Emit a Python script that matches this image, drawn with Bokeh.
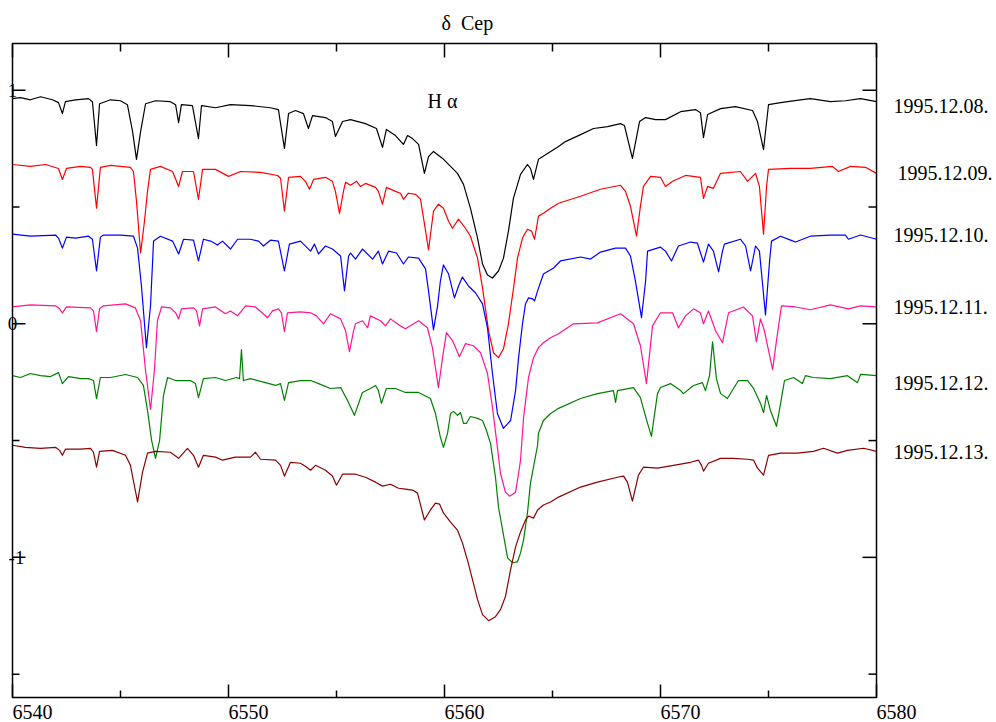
from bokeh.plotting import figure
from bokeh.models import Range1d, Label
from bokeh.embed import file_html
from bokeh.resources import INLINE

# Offset H-alpha region spectra of delta Cep, one per night: (wavelength [A], offset flux)
spec_1208 = [
    (6540.00, 0.964), (6540.37, 0.968), (6540.83, 0.959), (6541.30, 0.972), (6541.85, 0.959),
    (6542.13, 0.947), (6542.31, 0.900), (6542.45, 0.951), (6542.92, 0.959), (6543.52, 0.964),
    (6543.70, 0.951), (6543.89, 0.763), (6544.03, 0.942), (6544.54, 0.959), (6545.00, 0.955),
    (6545.32, 0.938), (6545.56, 0.823), (6545.74, 0.704), (6545.93, 0.823), (6546.16, 0.942),
    (6546.62, 0.955), (6547.31, 0.951), (6547.55, 0.938), (6547.69, 0.861), (6547.82, 0.938),
    (6548.33, 0.934), (6548.61, 0.793), (6548.75, 0.934), (6549.40, 0.925), (6550.09, 0.938),
    (6551.02, 0.934), (6551.94, 0.925), (6552.31, 0.917), (6552.59, 0.751), (6552.78, 0.900),
    (6553.10, 0.913), (6553.47, 0.900), (6553.70, 0.836), (6553.89, 0.891), (6554.49, 0.883),
    (6554.81, 0.866), (6554.95, 0.802), (6555.28, 0.866), (6555.65, 0.874), (6556.34, 0.857),
    (6556.85, 0.836), (6557.13, 0.755), (6557.31, 0.832), (6557.73, 0.806), (6558.10, 0.768),
    (6558.29, 0.806), (6558.52, 0.793), (6558.80, 0.768), (6559.07, 0.644), (6559.26, 0.716),
    (6559.49, 0.738), (6559.91, 0.708), (6560.28, 0.674), (6560.60, 0.644), (6560.88, 0.597),
    (6561.20, 0.495), (6561.53, 0.367), (6561.76, 0.256), (6561.99, 0.209), (6562.22, 0.196),
    (6562.50, 0.226), (6562.73, 0.281), (6562.96, 0.397), (6563.19, 0.537), (6563.52, 0.640),
    (6563.84, 0.682), (6563.98, 0.665), (6564.12, 0.618), (6564.35, 0.704), (6564.77, 0.729),
    (6565.28, 0.759), (6565.60, 0.780), (6566.30, 0.810), (6566.90, 0.836), (6567.55, 0.844),
    (6568.15, 0.857), (6568.33, 0.849), (6568.70, 0.708), (6569.03, 0.866), (6569.31, 0.883),
    (6569.77, 0.874), (6570.23, 0.874), (6570.93, 0.908), (6571.62, 0.917), (6571.85, 0.904),
    (6571.99, 0.797), (6572.18, 0.896), (6572.78, 0.921), (6573.47, 0.930), (6574.26, 0.913),
    (6574.49, 0.866), (6574.77, 0.746), (6575.00, 0.938), (6575.56, 0.947), (6576.48, 0.959),
    (6576.94, 0.964), (6577.87, 0.951), (6578.56, 0.955), (6579.26, 0.964), (6580.00, 0.951),
]

spec_1209 = [
    (6540.00, 0.682), (6540.83, 0.674), (6541.53, 0.682), (6542.13, 0.665), (6542.31, 0.618),
    (6542.50, 0.665), (6543.15, 0.674), (6543.61, 0.670), (6543.70, 0.661), (6543.89, 0.495),
    (6544.07, 0.670), (6544.54, 0.678), (6545.46, 0.670), (6545.60, 0.652), (6545.74, 0.525),
    (6545.93, 0.303), (6546.11, 0.439), (6546.25, 0.567), (6546.39, 0.661), (6546.85, 0.674),
    (6547.41, 0.652), (6547.69, 0.588), (6547.87, 0.652), (6548.38, 0.652), (6548.61, 0.533),
    (6548.80, 0.661), (6549.40, 0.661), (6550.00, 0.631), (6550.56, 0.652), (6551.48, 0.648),
    (6552.27, 0.635), (6552.41, 0.623), (6552.59, 0.482), (6552.78, 0.627), (6553.33, 0.631),
    (6553.56, 0.610), (6553.75, 0.576), (6553.94, 0.618), (6554.49, 0.627), (6554.81, 0.610),
    (6554.95, 0.567), (6555.14, 0.473), (6555.32, 0.567), (6555.42, 0.606), (6555.65, 0.593),
    (6555.93, 0.610), (6556.11, 0.588), (6556.34, 0.601), (6556.81, 0.584), (6556.94, 0.567),
    (6557.13, 0.512), (6557.31, 0.584), (6557.73, 0.567), (6557.96, 0.559), (6558.10, 0.533),
    (6558.33, 0.559), (6558.66, 0.554), (6558.89, 0.533), (6559.03, 0.452), (6559.26, 0.316),
    (6559.49, 0.482), (6559.72, 0.512), (6559.95, 0.495), (6560.19, 0.439), (6560.37, 0.409),
    (6560.65, 0.448), (6560.97, 0.409), (6561.20, 0.375), (6561.53, 0.281), (6561.76, 0.154),
    (6562.04, -0.030), (6562.27, -0.124), (6562.50, -0.145), (6562.73, -0.107), (6562.96, 0.000),
    (6563.19, 0.149), (6563.38, 0.281), (6563.61, 0.367), (6563.84, 0.405), (6564.03, 0.397),
    (6564.17, 0.362), (6564.35, 0.461), (6564.58, 0.473), (6564.91, 0.495), (6565.28, 0.516),
    (6566.30, 0.546), (6567.22, 0.576), (6568.15, 0.593),
    (6568.38, 0.567), (6568.61, 0.503), (6568.89, 0.375), (6569.07, 0.503), (6569.21, 0.588),
    (6569.54, 0.631), (6570.00, 0.627), (6570.23, 0.588), (6570.56, 0.610), (6571.16, 0.635),
    (6571.85, 0.627), (6571.99, 0.537), (6572.18, 0.588), (6572.45, 0.580), (6572.78, 0.644),
    (6573.70, 0.652), (6574.03, 0.610), (6574.40, 0.644), (6574.58, 0.588), (6574.77, 0.384),
    (6574.91, 0.588), (6575.00, 0.661), (6576.02, 0.665), (6576.94, 0.665), (6577.96, 0.674),
    (6578.24, 0.652), (6578.80, 0.674), (6579.49, 0.670), (6580.00, 0.644),
]

spec_1210 = [
    (6540.00, 0.384), (6540.83, 0.375), (6541.99, 0.380), (6542.13, 0.367), (6542.31, 0.324),
    (6542.50, 0.371), (6542.92, 0.367), (6543.52, 0.375), (6543.70, 0.362), (6543.89, 0.226),
    (6544.07, 0.371), (6544.21, 0.380), (6545.00, 0.380), (6545.60, 0.375), (6545.79, 0.324),
    (6545.97, 0.162), (6546.20, -0.102), (6546.39, 0.077), (6546.53, 0.354), (6546.85, 0.375),
    (6547.41, 0.354), (6547.69, 0.299), (6547.92, 0.362), (6548.38, 0.358), (6548.61, 0.269),
    (6548.84, 0.362), (6549.17, 0.354), (6549.49, 0.337), (6549.72, 0.354), (6550.09, 0.320),
    (6550.42, 0.362), (6551.02, 0.362), (6551.39, 0.354), (6551.62, 0.333), (6551.94, 0.358),
    (6552.31, 0.354), (6552.59, 0.226), (6552.82, 0.341), (6553.33, 0.354), (6553.80, 0.311),
    (6553.98, 0.341), (6554.17, 0.299), (6554.49, 0.333), (6554.81, 0.320), (6555.19, 0.290),
    (6555.37, 0.141), (6555.56, 0.290), (6555.65, 0.303), (6555.88, 0.277), (6556.20, 0.320),
    (6556.67, 0.277), (6556.94, 0.311), (6557.13, 0.256), (6557.41, 0.311), (6557.78, 0.303),
    (6558.10, 0.256), (6558.33, 0.286), (6558.80, 0.281), (6559.12, 0.235), (6559.26, 0.141),
    (6559.49, -0.026), (6559.68, 0.077), (6559.81, 0.183), (6559.95, 0.252), (6560.19, 0.213),
    (6560.46, 0.111), (6560.65, 0.162), (6560.83, 0.200), (6561.11, 0.162), (6561.44, 0.132),
    (6561.76, 0.085), (6561.99, -0.017), (6562.22, -0.213), (6562.45, -0.384), (6562.73, -0.448),
    (6563.06, -0.414), (6563.29, -0.286), (6563.43, -0.145), (6563.61, 0.000), (6563.75, 0.085),
    (6563.89, 0.111), (6564.07, 0.107), (6564.17, 0.098), (6564.31, 0.141), (6564.58, 0.213),
    (6565.05, 0.239), (6565.37, 0.269), (6566.30, 0.286), (6566.76, 0.277), (6567.22, 0.307),
    (6567.92, 0.324),
    (6568.38, 0.324), (6568.61, 0.290), (6568.84, 0.183), (6569.12, 0.026), (6569.31, 0.183),
    (6569.40, 0.311), (6570.00, 0.328), (6570.23, 0.311), (6570.51, 0.269), (6570.83, 0.333),
    (6571.39, 0.350), (6571.71, 0.345), (6571.99, 0.264), (6572.22, 0.341), (6572.45, 0.311),
    (6572.69, 0.222), (6572.87, 0.311), (6572.96, 0.341), (6573.70, 0.362), (6573.94, 0.333),
    (6574.17, 0.226), (6574.40, 0.333), (6574.58, 0.311), (6574.86, 0.038), (6575.05, 0.269),
    (6575.14, 0.354), (6575.56, 0.375), (6576.02, 0.358), (6576.25, 0.350), (6576.94, 0.375),
    (6577.87, 0.380), (6578.56, 0.380), (6578.70, 0.362), (6579.26, 0.380), (6580.00, 0.362),
]

spec_1211 = [
    (6540.00, 0.072), (6540.83, 0.081), (6541.99, 0.077), (6542.18, 0.064), (6542.31, 0.047),
    (6542.50, 0.072), (6543.61, 0.068), (6543.75, 0.055), (6543.89, -0.034), (6544.03, 0.064),
    (6544.21, 0.077), (6545.23, 0.085), (6545.69, 0.068), (6545.93, 0.013), (6546.16, -0.200),
    (6546.39, -0.367), (6546.57, -0.200), (6546.71, 0.013), (6546.90, 0.072), (6547.31, 0.068),
    (6547.55, 0.047), (6547.69, 0.021), (6547.82, 0.064), (6548.38, 0.068), (6548.52, 0.055),
    (6548.66, -0.009), (6548.80, 0.064), (6549.40, 0.072), (6549.86, 0.043), (6550.09, 0.055),
    (6550.42, 0.034), (6550.79, 0.077), (6551.25, 0.072), (6551.81, 0.026), (6552.04, 0.055),
    (6552.31, 0.064), (6552.45, 0.047), (6552.59, -0.034), (6552.73, 0.047), (6553.33, 0.051),
    (6553.80, 0.047), (6554.07, 0.034), (6554.40, 0.000), (6554.72, 0.043), (6555.19, 0.021),
    (6555.42, -0.030), (6555.60, -0.119), (6555.79, -0.030), (6555.88, 0.000), (6556.20, 0.013),
    (6556.44, -0.017), (6556.57, 0.034), (6557.04, 0.013), (6557.27, -0.009), (6557.50, 0.021),
    (6557.96, -0.009), (6558.19, -0.021), (6558.80, 0.013), (6559.21, -0.017), (6559.44, -0.102),
    (6559.72, -0.273), (6559.91, -0.145), (6560.09, -0.038), (6560.37, -0.072), (6560.69, -0.141),
    (6560.97, -0.085), (6561.34, -0.094), (6561.67, -0.124), (6561.99, -0.213), (6562.22, -0.358),
    (6562.41, -0.499), (6562.59, -0.640), (6562.82, -0.721), (6563.01, -0.738), (6563.29, -0.721),
    (6563.43, -0.640), (6563.52, -0.584), (6563.66, -0.401), (6563.89, -0.230), (6564.12, -0.145),
    (6564.35, -0.102), (6564.58, -0.081), (6564.91, -0.060), (6565.28, -0.043),
    (6565.97, 0.000), (6567.08, 0.004), (6568.15, 0.043), (6568.75, 0.000),
    (6569.07, -0.094), (6569.35, -0.256), (6569.63, -0.009), (6570.00, 0.047), (6570.56, 0.047),
    (6570.83, -0.017), (6571.16, 0.034), (6571.53, 0.064), (6571.85, 0.047), (6571.99, 0.000),
    (6572.22, 0.055), (6572.55, -0.030), (6572.87, -0.081), (6573.15, 0.047), (6573.84, 0.072),
    (6574.26, 0.034), (6574.44, -0.077), (6574.63, 0.021), (6574.81, -0.030), (6575.19, -0.196),
    (6575.37, -0.072), (6575.60, 0.077), (6576.25, 0.072), (6576.94, 0.060), (6577.87, 0.081),
    (6578.70, 0.064), (6579.26, 0.077), (6580.00, 0.072),
]

spec_1212 = [
    (6540.00, -0.222), (6540.37, -0.230), (6540.83, -0.213), (6541.30, -0.222), (6541.76, -0.226),
    (6542.13, -0.209), (6542.31, -0.256), (6542.59, -0.226), (6543.15, -0.235), (6543.52, -0.235),
    (6543.75, -0.243), (6543.89, -0.320), (6544.07, -0.230), (6544.54, -0.230), (6545.23, -0.217),
    (6545.79, -0.230), (6546.06, -0.264), (6546.25, -0.371), (6546.44, -0.499), (6546.62, -0.576),
    (6546.81, -0.499), (6546.99, -0.307), (6547.18, -0.230), (6547.55, -0.243), (6548.24, -0.243),
    (6548.47, -0.256), (6548.61, -0.316), (6548.84, -0.235), (6549.40, -0.230), (6549.86, -0.243),
    (6550.37, -0.230), (6550.51, -0.235), (6550.60, -0.111), (6550.69, -0.243), (6551.02, -0.235),
    (6551.71, -0.252), (6552.18, -0.264), (6552.41, -0.256), (6552.59, -0.328), (6552.78, -0.252),
    (6553.33, -0.243), (6553.80, -0.243), (6554.17, -0.256), (6554.72, -0.277), (6555.19, -0.273),
    (6555.51, -0.328), (6555.83, -0.392), (6556.20, -0.294), (6556.57, -0.277), (6556.81, -0.264),
    (6556.94, -0.286), (6557.08, -0.341), (6557.31, -0.277), (6557.73, -0.277), (6558.19, -0.294),
    (6558.80, -0.294), (6559.35, -0.320), (6559.58, -0.384), (6559.81, -0.486), (6559.95, -0.529),
    (6560.14, -0.469), (6560.28, -0.384), (6560.42, -0.375), (6560.60, -0.392), (6560.74, -0.380),
    (6560.88, -0.426), (6561.02, -0.426), (6561.20, -0.397), (6561.53, -0.405), (6561.76, -0.414),
    (6561.94, -0.456), (6562.13, -0.512), (6562.36, -0.657), (6562.50, -0.785), (6562.69, -0.883),
    (6562.92, -1.002), (6563.15, -1.023), (6563.38, -1.019), (6563.52, -0.981), (6563.66, -0.925),
    (6563.84, -0.810), (6563.98, -0.682), (6564.12, -0.614), (6564.31, -0.520), (6564.35, -0.469),
    (6564.58, -0.414), (6564.91, -0.384), (6565.28, -0.362), (6566.30, -0.320),
    (6567.08, -0.299), (6567.82, -0.286), (6567.92, -0.337), (6568.01, -0.286), (6568.75, -0.273),
    (6569.07, -0.316), (6569.40, -0.426), (6569.58, -0.482), (6569.86, -0.299), (6570.00, -0.273),
    (6570.46, -0.256), (6570.93, -0.286), (6571.06, -0.299), (6571.53, -0.264), (6571.94, -0.252),
    (6572.08, -0.286), (6572.27, -0.222), (6572.41, -0.077), (6572.59, -0.235), (6572.78, -0.299),
    (6573.10, -0.320), (6573.38, -0.277), (6573.61, -0.243), (6574.03, -0.243), (6574.31, -0.277),
    (6574.63, -0.341), (6574.77, -0.380), (6574.91, -0.307), (6575.09, -0.371), (6575.37, -0.439),
    (6575.56, -0.341), (6575.74, -0.243), (6576.16, -0.230), (6576.57, -0.256), (6576.71, -0.222),
    (6577.08, -0.230), (6577.87, -0.235), (6578.66, -0.222), (6579.12, -0.252), (6579.26, -0.217),
    (6580.00, -0.222),
]

spec_1213 = [
    (6540.00, -0.520), (6540.60, -0.529), (6541.30, -0.533), (6541.99, -0.529), (6542.18, -0.542),
    (6542.31, -0.563), (6542.45, -0.537), (6543.15, -0.537), (6543.61, -0.533), (6543.75, -0.550),
    (6543.89, -0.614), (6544.03, -0.546), (6544.63, -0.542), (6545.23, -0.563), (6545.46, -0.606),
    (6545.79, -0.763), (6546.02, -0.635), (6546.25, -0.554), (6546.62, -0.546), (6547.31, -0.550),
    (6547.69, -0.576), (6548.10, -0.533), (6548.38, -0.563), (6548.61, -0.614), (6548.84, -0.563),
    (6549.40, -0.571), (6549.72, -0.584), (6550.32, -0.571), (6551.02, -0.571), (6551.25, -0.550),
    (6551.48, -0.580), (6552.18, -0.584), (6552.41, -0.606), (6552.59, -0.652), (6552.87, -0.593),
    (6553.33, -0.597), (6553.56, -0.610), (6553.80, -0.627), (6554.03, -0.606), (6554.49, -0.627),
    (6554.81, -0.652), (6555.00, -0.691), (6555.28, -0.644), (6555.88, -0.644), (6556.34, -0.657),
    (6556.81, -0.678), (6557.13, -0.695), (6557.50, -0.687), (6557.87, -0.704), (6558.19, -0.708),
    (6558.52, -0.712), (6558.75, -0.725), (6559.07, -0.840), (6559.35, -0.797), (6559.58, -0.768),
    (6559.77, -0.772), (6559.95, -0.810), (6560.28, -0.849), (6560.60, -0.883), (6560.83, -0.938),
    (6561.06, -1.011), (6561.30, -1.096), (6561.53, -1.181), (6561.76, -1.245), (6562.04, -1.271),
    (6562.36, -1.254), (6562.59, -1.224), (6562.82, -1.168), (6563.06, -1.053), (6563.29, -0.955),
    (6563.52, -0.891), (6563.75, -0.840), (6563.89, -0.823), (6564.12, -0.832), (6564.31, -0.797),
    (6564.58, -0.776), (6564.91, -0.763), (6565.28, -0.742), (6566.30, -0.699), (6567.08, -0.678),
    (6568.01, -0.657), (6568.29, -0.652), (6568.47, -0.678), (6568.70, -0.759), (6568.98, -0.648),
    (6569.21, -0.614), (6569.86, -0.618), (6570.60, -0.606), (6571.39, -0.593), (6571.76, -0.584),
    (6571.90, -0.606), (6571.99, -0.631), (6572.22, -0.597), (6572.78, -0.576), (6573.38, -0.576),
    (6574.03, -0.580), (6574.31, -0.584), (6574.49, -0.618), (6574.77, -0.648), (6575.00, -0.563),
    (6575.56, -0.554), (6576.34, -0.554), (6577.08, -0.546), (6577.55, -0.533), (6578.19, -0.554),
    (6578.66, -0.542), (6579.40, -0.533), (6580.00, -0.546),
]

spectra = [spec_1208, spec_1209, spec_1210, spec_1211, spec_1212, spec_1213]
dates = ["1995.12.08.", "1995.12.09.", "1995.12.10.", "1995.12.11.", "1995.12.12.", "1995.12.13."]
colors = ["#000000", "#ff0000", "#0000ff", "#ff1493", "#008000", "#8b0000"]

# where each night's date is written, beside the right edge (data units)
date_x = [6580.79, 6580.97, 6580.79, 6580.79, 6580.79, 6580.79]
date_y = [0.934, 0.644, 0.380, 0.072, -0.252, -0.550]

x_major = [6540, 6550, 6560, 6570, 6580]
x_minor = [6545, 6555, 6565, 6575]
y_major = [-1, 0, 1]
y_minor = [-1.5, -0.5, 0.5]
y_labels = ["-1", "0", "1"]

# plotting box
X0, X1 = 6540, 6580
Y0, Y1 = -1.6, 1.2

FONT = "Liberation Serif"
W, H = 996, 722
BOX_L, BOX_T, BOX_W, BOX_H = 12, 43, 864, 654   # box placement on the canvas, px

# the whole canvas is the frame, so labels beside the box are not clipped
sx = BOX_W / (X1 - X0)        # px per Angstrom
sy = BOX_H / (Y1 - Y0)        # px per flux unit
x_range = Range1d(X0 - BOX_L / sx, X0 + (W - BOX_L) / sx)
y_range = Range1d(Y1 - (H - BOX_T) / sy, Y1 + BOX_T / sy)

p = figure(
    frame_width=W, frame_height=H,
    x_range=x_range, y_range=y_range,
    x_axis_type=None, y_axis_type=None,
    output_backend="svg", toolbar_location=None,
    min_border=0,
)
p.background_fill_color = "white"
p.border_fill_color = "white"
p.outline_line_color = None

# spectra
for spec, col in zip(spectra, colors):
    wl = [w for w, _ in spec]
    fl = [f for _, f in spec]
    p.line(wl, fl, line_color=col, line_width=1.2, line_join="round")

# frame
p.quad(left=[X0], right=[X1], bottom=[Y0], top=[Y1], fill_color=None,
       line_color="black", line_width=1.5)

# inward ticks on all four sides
MAJ, MIN = 13, 7  # tick lengths, px
xt = x_major + x_minor
xl = [MAJ] * len(x_major) + [MIN] * len(x_minor)
p.segment(x0=xt, y0=[Y0] * len(xt), x1=xt, y1=[Y0 + l / sy for l in xl],
          line_color="black", line_width=1.5)
p.segment(x0=xt, y0=[Y1] * len(xt), x1=xt, y1=[Y1 - (l + 1) / sy for l in xl],
          line_color="black", line_width=1.5)
yt = y_major + y_minor
yl = [MAJ] * len(y_major) + [MIN] * len(y_minor)
p.segment(x0=[X0] * len(yt), y0=yt, x1=[X0 + l / sx for l in yl], y1=yt,
          line_color="black", line_width=1.5)
p.segment(x0=[X1] * len(yt), y0=yt, x1=[X1 - (l + 1) / sx for l in yl], y1=yt,
          line_color="black", line_width=1.5)

# wavelength labels start at their tick
for t in x_major:
    p.add_layout(Label(x=t, y=Y0 - 14 / sy, text=str(t), text_font=FONT, text_font_size="20px",
                       text_align="left", text_baseline="middle", text_color="black"))

# flux labels sit on the left frame edge
for t, lab in zip(y_major, y_labels):
    p.add_layout(Label(x=X0 + (4 / sx if t < 0 else 0.0), y=t, text=lab, text_font=FONT,
                       text_font_size="19px", text_align="center", text_baseline="middle",
                       text_color="black"))

for x, y, d in zip(date_x, date_y, dates):
    p.add_layout(Label(x=x, y=y, text=d, text_font=FONT, text_font_size="20px",
                       text_align="left", text_baseline="middle", text_color="black"))

p.add_layout(Label(x=6561.06, y=Y1 + 21 / sy, text="δ\u00a0\u00a0Cep", text_font=FONT,
                   text_font_size="20px", text_align="center", text_baseline="middle",
                   text_color="black"))
p.add_layout(Label(x=6559.91, y=0.952, text="H\u00a0α", text_font=FONT, text_font_size="20px",
                   text_align="center", text_baseline="middle", text_color="black"))

open("out.html", "w").write(file_html(p, INLINE))
